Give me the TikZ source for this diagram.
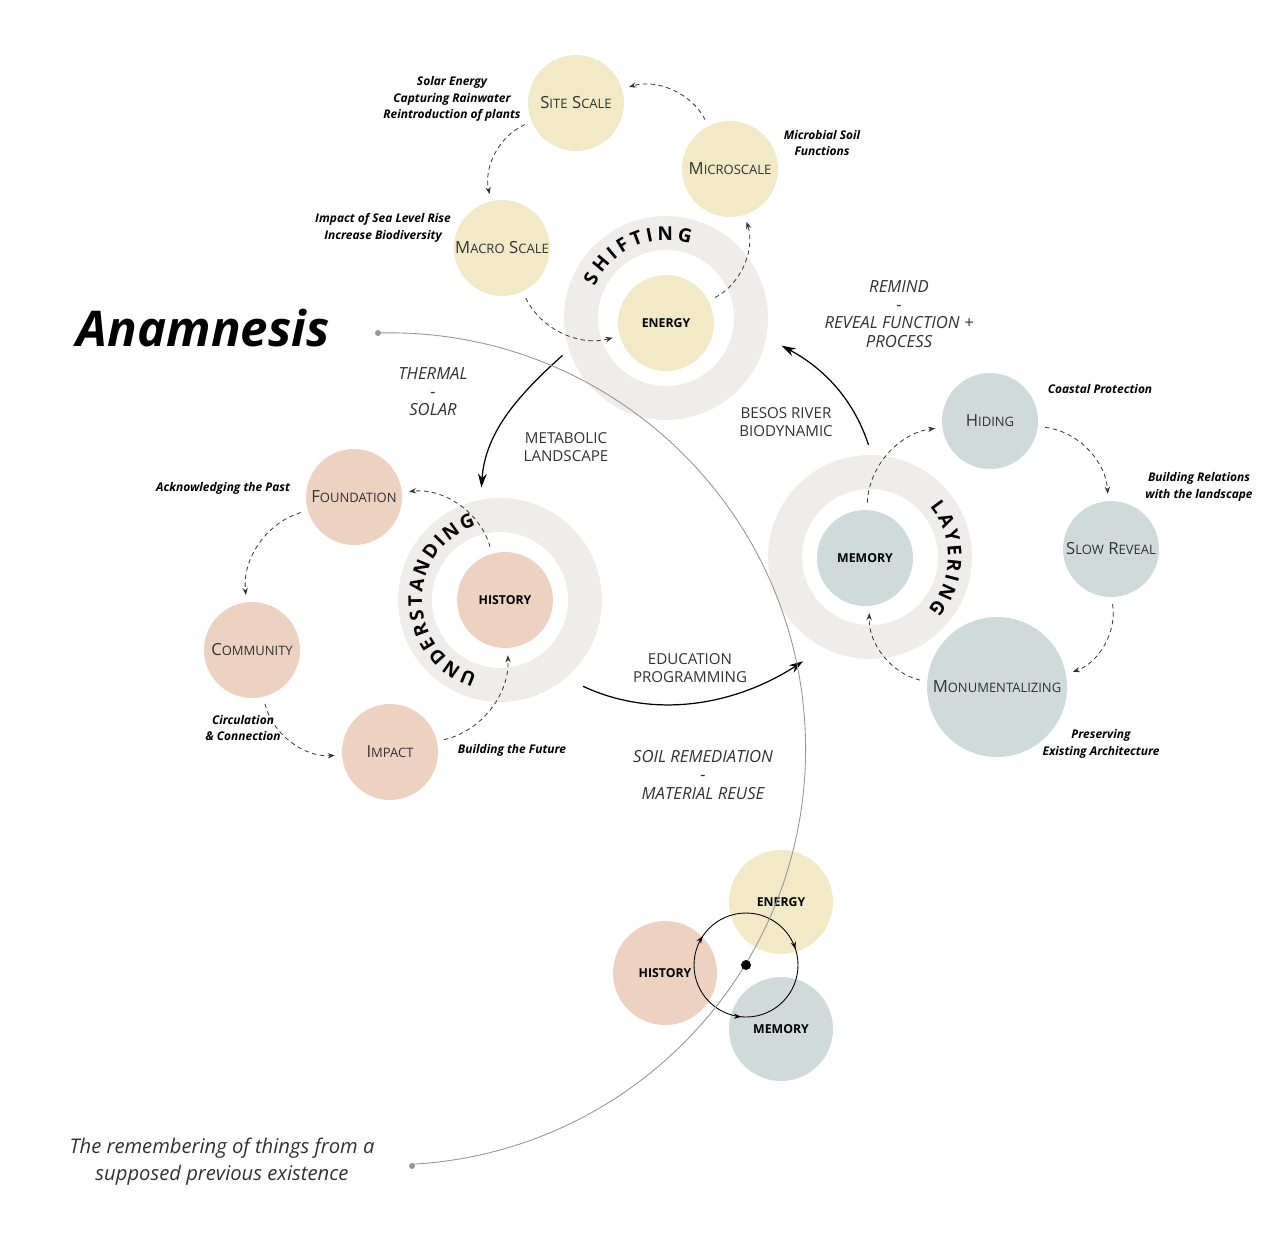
\documentclass[tikz,border=0pt]{standalone}
\usepackage{fontspec}
\setmainfont{Open Sans}
\usetikzlibrary{positioning}
\usetikzlibrary{arrows.meta}
\usetikzlibrary{decorations.text}
\usetikzlibrary{decorations.markings}
\definecolor{figAmarillo}{RGB}{242,234,199}
\definecolor{figRosa}{RGB}{238,210,193}
\definecolor{figGrisAzul}{RGB}{208,218,219}
\definecolor{figAnillo}{RGB}{238,237,234}
\definecolor{figTexto}{RGB}{50,50,50}
\definecolor{figLinea}{RGB}{150,150,150}
\newcommand{\versal}[2]{{\fontsize{9.5}{11}\selectfont #1}{\fontsize{7.4}{11}\selectfont #2}}
\tikzset{
  burbuja/.style={
    circle, fill=figAmarillo, minimum size=1.92cm, inner sep=0pt,
    align=center, text=figTexto
  },
  burbujar/.style={
    circle, fill=figRosa, minimum size=1.92cm, inner sep=0pt,
    align=center, text=figTexto
  },
  burbujag/.style={
    circle, fill=figGrisAzul, minimum size=1.92cm, inner sep=0pt,
    align=center, text=figTexto
  },
  nucleo/.style={font=\bfseries\fontsize{7}{8}\selectfont, text=black},
  anillo/.style={
    circle, draw=figAnillo, line width=0.68cm, minimum size=3.4cm,
    inner sep=0pt, outer sep=0.34cm
  },
  textoanillo/.style={
    decorate, decoration={text along path, text align=fit to path,
      text={|\bfseries\fontsize{10.8}{11}\selectfont|#1}}
  },
  nota/.style={align=center, font=\bfseries\itshape\fontsize{6.8}{9.3}\selectfont, text=black, inner sep=0pt},
  rotulo/.style={align=center, font=\itshape\fontsize{9.5}{10.3}\selectfont, text=figTexto, inner sep=0pt},
  rotulom/.style={align=center, font=\fontsize{8.6}{10.2}\selectfont, text=figTexto, inner sep=0pt},
  flecha/.style={-{Stealth[length=8pt,width=5pt]}, line width=0.7pt, draw=black},
  flechad/.style={-{Stealth[length=4pt,width=3pt]}, dash pattern=on 2.5pt off 2pt,
    line width=0.45pt, draw=figTexto, shorten <=4pt, shorten >=4pt},
  arcofino/.style={draw=figLinea, line width=0.5pt},
  lazo/.style={draw=black, line width=0.5pt, postaction={decorate},
    decoration={markings,
      mark=at position 0.05 with {\arrowreversed{Stealth[length=4pt,width=3pt]}},
      mark=at position 0.407 with {\arrowreversed{Stealth[length=4pt,width=3pt]}},
      mark=at position 0.735 with {\arrow{Stealth[length=4pt,width=3pt]}}}}
}
\begin{document}
\begin{tikzpicture}[x=0.02cm, y=0.02cm]
  \useasboundingbox (0,0) rectangle (1280,-1234);

  % anillos
  \node[anillo] (shiftRing) at (666,-318) {};
  \node[anillo] (undRing) at (500,-600) {};
  \node[anillo] (layerRing) at (870,-557) {};
  \path[textoanillo=SHIFTING, shift={(shiftRing.center)}] (156:78) arc[start angle=156, end angle=72, radius=78];
  \path[textoanillo=UNDERSTANDING, shift={(undRing.center)}] (253:78) arc[start angle=253, end angle=108, radius=78];
  \path[textoanillo=LAYERING, shift={(layerRing.center)}] (40:78) arc[start angle=40, end angle=-42, radius=78];

  % energia
  \node[burbuja] (siteScale) at (576,-103) {\versal{S}{ITE} \versal{S}{CALE}};
  \node[burbuja] (microScale) at (730,-169) {\versal{M}{ICROSCALE}};
  \node[burbuja] (macroScale) at (502,-248) {\versal{M}{ACRO} \versal{S}{CALE}};
  \node[burbuja, nucleo] (energy) at (666,-323) {ENERGY};

  % historia
  \node[burbujar] (foundation) at (354,-497) {\versal{F}{OUNDATION}};
  \node[burbujar] (community) at (252,-650) {\versal{C}{OMMUNITY}};
  \node[burbujar] (impact) at (390,-752) {\versal{I}{MPACT}};
  \node[burbujar, nucleo] (history) at (505,-600) {HISTORY};

  % memoria
  \node[burbujag] (hiding) at (990,-421) {\versal{H}{IDING}};
  \node[burbujag] (slowReveal) at (1111,-549) {\versal{S}{LOW} \versal{R}{EVEAL}};
  \node[burbujag, minimum size=2.8cm] (monument) at (997,-687) {\versal{M}{ONUMENTALIZING}};
  \node[burbujag, nucleo] (memory) at (865,-558) {MEMORY};

  % ciclos punteados
  \draw[flechad] (microScale) to[bend right=40] (siteScale);
  \draw[flechad] (siteScale) to[bend right=40] (macroScale);
  \draw[flechad] (macroScale) to[bend right=40] (energy);
  \draw[flechad] (energy) to[bend right=40] (microScale);
  \draw[flechad] (foundation) to[bend right=40] (community);
  \draw[flechad] (community) to[bend right=40] (impact);
  \draw[flechad] (impact) to[bend right=40] (history);
  \draw[flechad] (history) to[bend right=40] (foundation);
  \draw[flechad] (memory) to[bend left=40] (hiding);
  \draw[flechad] (hiding) to[bend left=40] (slowReveal);
  \draw[flechad] (slowReveal) to[bend left=40] (monument);
  \draw[flechad] (monument) to[bend left=40] (memory);

  % notas
  \node[nota] (solarNota) at (452,-99) {Solar Energy\\Capturing Rainwater\\Reintroduction of plants};
  \node[nota] (microNota) at (822,-143) {Microbial Soil\\Functions};
  \node[nota] (macroNota) at (383,-228) {Impact of Sea Level Rise\\Increase Biodiversity};
  \node[nota] (pasadoNota) at (223,-488) {Acknowledging the Past};
  \node[nota] (circNota) at (243,-728) {Circulation\\\& Connection};
  \node[nota] (futuroNota) at (512,-750) {Building the Future};
  \node[nota] (costaNota) at (1100,-389) {Coastal Protection};
  \node[nota] (relacionNota) at (1199,-487) {Building Relations\\with the landscape};
  \node[nota] (preservNota) at (1101,-744) {Preserving\\Existing Architecture};

  % flechas entre anillos
  \draw[flecha, shorten <=5pt, shorten >=7pt] (shiftRing.198) to[out=222, in=86] (undRing.101);
  \draw[flecha, shorten <=11pt, shorten >=14pt] (undRing.-50) to[out=-25, in=213] (layerRing.243);
  \draw[flecha, shorten <=6pt, shorten >=10pt] (layerRing.89) to[out=108, in=-28] (shiftRing.-11);

  \node[rotulo] (thermal) at (433,-392) {THERMAL\\-\\SOLAR};
  \node[rotulo] (remind) at (899,-314) {REMIND\\-\\REVEAL FUNCTION +\\PROCESS};
  \node[rotulo] (soil) at (703,-775) {SOIL REMEDIATION\\-\\MATERIAL REUSE};
  \node[rotulom] (metabolic) at (566,-447) {METABOLIC\\LANDSCAPE};
  \node[rotulom] (besos) at (786,-422) {BESOS RIVER\\BIODYNAMIC};
  \node[rotulom] (education) at (690,-668) {EDUCATION\\PROGRAMMING};

  % sintesis
  \node[burbuja, nucleo, minimum size=2.08cm] (energyB) at (781,-902) {ENERGY};
  \node[burbujar, nucleo, minimum size=2.08cm] (historyB) at (665,-973) {HISTORY};
  \node[burbujag, nucleo, minimum size=2.08cm] (memoryB) at (781,-1029) {MEMORY};
  \coordinate (ciclo) at (746,-965);
  \draw[lazo] (ciclo) circle[radius=52];

  % arco
  \coordinate (arcIni) at (378,-333);
  \coordinate (arcFin) at (412,-1166);
  \draw[arcofino] (arcIni) arc[start angle=91.6, end angle=-87, radius=416];
  \fill[figLinea] (arcIni) circle[radius=3];
  \fill[figLinea] (arcFin) circle[radius=3];
  \fill[black] (ciclo) circle[radius=5];

  \node[font=\bfseries\itshape\fontsize{28}{30}\selectfont, inner sep=0pt] (titulo) at (203,-328) {Anamnesis};
  \node[align=center, font=\itshape\fontsize{11.5}{15.3}\selectfont, text=figTexto, inner sep=0pt] (subtitulo) at (222,-1162) {The remembering of things from a\\supposed previous existence};
\end{tikzpicture}
\end{document}
